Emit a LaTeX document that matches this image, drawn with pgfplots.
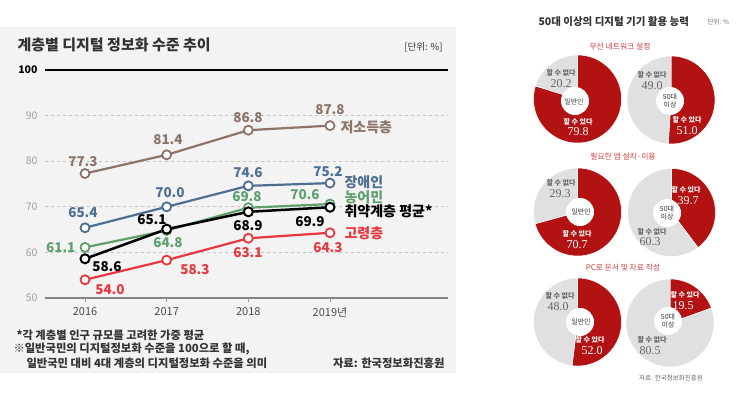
\documentclass[border=0pt]{standalone}
\usepackage{fontspec}
\setmainfont{Noto Sans CJK KR}
\newfontfamily\numserif{Liberation Serif}
\usepackage{pgfplots}
\pgfplotsset{compat=1.18}
\definecolor{bgc}{HTML}{F3F3F3}
\definecolor{brownc}{HTML}{8C7468}
\definecolor{bluec}{HTML}{4D6F92}
\definecolor{greenc}{HTML}{5E9F6E}
\definecolor{redc}{HTML}{E8383D}
\definecolor{gridc}{HTML}{C4C4C4}
\definecolor{tickc}{HTML}{9A9A9A}
\definecolor{axisc}{HTML}{858585}
\definecolor{ylabc}{HTML}{A0A0A0}
\definecolor{xlabc}{HTML}{4A4A4A}
\definecolor{titc}{HTML}{333333}
\definecolor{dred}{HTML}{B31212}
\definecolor{dgray}{HTML}{E0E0E0}
\definecolor{dtext}{HTML}{666666}
\definecolor{rowc}{HTML}{CC4040}
\newcommand{\fs}[1]{\fontsize{#1}{#1}\selectfont}
\newcommand{\donut}[5]{%
  \addplot[fill=dred, draw=white, line width=0.5pt, domain=0:3.6*#3, samples=120, variable=\t] ({#1+44*sin(\t)}, {#2-44*cos(\t)}) -- (axis cs:#1,#2) -- cycle;
  \addplot[fill=dgray, draw=white, line width=0.5pt, domain=3.6*#3:360, samples=120, variable=\t] ({#1+44*sin(\t)}, {#2-44*cos(\t)}) -- (axis cs:#1,#2) -- cycle;
  \fill[white] (axis cs:#4,#5) circle[radius=14];
}
\begin{document}
\begin{tikzpicture}
\path[use as bounding box] (0,0) rectangle (741pt,405pt);
\fill[bgc] (0,32pt) rectangle (456pt,378pt);
\begin{axis}[
  at={(45pt,107pt)}, anchor=south west, scale only axis,
  width=403pt, height=228pt,
  xmin=2015.51, xmax=2020.445, ymin=50, ymax=100,
  clip=false,
  axis line style={draw=none},
  xtick={2016,2017,2018,2019}, xticklabels={2016,2017,2018,2019년},
  ytick={50,60,70,80,90},
  extra y ticks={100},
  extra y tick style={grid style={solid, draw=black, line width=1.4pt}, yticklabel style={text=black, font=\fs{10.5}\bfseries}, tick style={draw=none}},
  ymajorgrids, grid style={draw=gridc, dash pattern=on 3pt off 3pt, line width=0.7pt},
  tick align=outside, major tick length=4pt,
  xtick pos=left, ytick pos=left,
  xtick style={draw=tickc, line width=1pt},
  ytick style={draw=none},
  xticklabel style={font=\fs{11}, text=xlabc, yshift=-2pt},
  yticklabel style={font=\fs{10.5}, text=ylabc},
  /pgf/number format/assume math mode=true,
]
\draw[draw=axisc, line width=1.2pt] (axis cs:2015.51,50) -- (axis cs:2020.445,50);
\addplot[brownc, line width=2.2pt, mark=*, mark size=4.5pt, mark options={solid, fill=white, line width=1.8pt}] coordinates {(2016,77.3)(2017,81.4)(2018,86.8)(2019,87.8)};
\addplot[bluec, line width=2.2pt, mark=*, mark size=4.5pt, mark options={solid, fill=white, line width=1.8pt}] coordinates {(2016,65.4)(2017,70.0)(2018,74.6)(2019,75.2)};
\addplot[greenc, line width=2.2pt, mark=*, mark size=4.5pt, mark options={solid, fill=white, line width=1.8pt}] coordinates {(2016,61.1)(2017,64.8)(2018,69.8)(2019,70.6)};
\addplot[redc, line width=2.2pt, mark=*, mark size=4.5pt, mark options={solid, fill=white, line width=1.8pt}] coordinates {(2016,54.0)(2017,58.3)(2018,63.1)(2019,64.3)};
\addplot[black, line width=2.5pt, mark=*, mark size=4.5pt, mark options={solid, fill=white, line width=2pt}] coordinates {(2016,58.6)(2017,65.1)(2018,68.9)(2019,69.9)};
\end{axis}
\begin{axis}[
  at={(0,0)}, anchor=south west, scale only axis,
  width=741pt, height=405pt,
  xmin=0, xmax=741, ymin=0, ymax=405, y dir=reverse,
  hide axis, clip=false,
]
% left titles
\node[anchor=west, font=\fs{15}\bfseries, text=titc] at (axis cs:14,45) {계층별 디지털 정보화 수준 추이};
\node[anchor=east, font=\fs{9.5}, text=titc] at (axis cs:446,47) {[단위: \%]};
% value labels
\begin{scope}[font=\fs{13.5}\bfseries]
\node[text=brownc] at (axis cs:83,162) {77.3};
\node[text=brownc] at (axis cs:168,140) {81.4};
\node[text=brownc] at (axis cs:248,118) {86.8};
\node[text=brownc] at (axis cs:330,110) {87.8};
\node[text=bluec] at (axis cs:83,213) {65.4};
\node[text=bluec] at (axis cs:170,193) {70.0};
\node[text=bluec] at (axis cs:248,173) {74.6};
\node[text=bluec] at (axis cs:328,172) {75.2};
\node[text=greenc, anchor=east] at (axis cs:79,248) {61.1};
\node[text=greenc] at (axis cs:168,243) {64.8};
\node[text=greenc] at (axis cs:247,197) {69.8};
\node[text=greenc] at (axis cs:305,195) {70.6};
\node[text=black] at (axis cs:107,267) {58.6};
\node[text=black] at (axis cs:152,220) {65.1};
\node[text=black] at (axis cs:248,226) {68.9};
\node[text=black] at (axis cs:310,222) {69.9};
\node[text=redc] at (axis cs:110,290) {54.0};
\node[text=redc] at (axis cs:195,270) {58.3};
\node[text=redc] at (axis cs:248,253) {63.1};
\node[text=redc] at (axis cs:328,248) {64.3};
\end{scope}
\begin{scope}[font=\fs{14}\bfseries]
\node[anchor=west, text=brownc] at (axis cs:337,127) {저소득층};
\node[anchor=west, text=bluec] at (axis cs:341,182) {장애인};
\node[anchor=west, text=greenc] at (axis cs:341,197) {농어민};
\node[anchor=west, text=black] at (axis cs:341,211) {취약계층 평균*};
\node[anchor=west, text=redc] at (axis cs:341,233) {고령층};
\end{scope}
% footnotes
\begin{scope}[font=\fs{11.3}\bfseries, text=titc]
\node[anchor=west] at (axis cs:13,335) {*각 계층별 인구 규모를 고려한 가중 평균};
\node[anchor=west] at (axis cs:10,349) {※일반국민의 디지털정보화 수준을 100으로 할 때,};
\node[anchor=west] at (axis cs:23,363) {일반국민 대비 4대 계층의 디지털정보화 수준을 의미};
\node[anchor=east] at (axis cs:448,363) {자료: 한국정보화진흥원};
\end{scope}
% right panel
\node[anchor=west, font=\fs{10.5}\bfseries, text=titc] at (axis cs:535,22) {50대 이상의 디지털 기기 활용 능력};
\node[anchor=west, font=\fs{6.5}, text=dtext] at (axis cs:704,22) {단위: \%};
\node[font=\fs{7.8}, text=rowc] at (axis cs:620,47) {무선 네트워크 설정};
\node[font=\fs{7.8}, text=rowc] at (axis cs:623,157) {필요한 앱 설치·이용};
\node[font=\fs{7.8}, text=rowc] at (axis cs:623,268) {PC로 문서 및 자료 작성};
\donut{577.5}{99}{79.8}{575}{101}
\donut{671}{100}{51.0}{670}{101}
\donut{577.5}{212}{70.7}{580}{212}
\donut{671.5}{212.5}{39.7}{667}{213}
\donut{577.5}{322}{52.0}{580}{322}
\donut{670}{323}{19.5}{668}{321}
% donut texts
\begin{scope}[font=\fs{7}\bfseries]
\node[text=dtext] at (axis cs:561,73) {할 수 없다};
\node[text=white] at (axis cs:578,122) {할 수 있다};
\node[text=dtext] at (axis cs:652,75) {할 수 없다};
\node[text=white] at (axis cs:687,120) {할 수 있다};
\node[text=dtext] at (axis cs:561,183) {할 수 없다};
\node[text=white] at (axis cs:577,234) {할 수 있다};
\node[text=white] at (axis cs:686,190) {할 수 있다};
\node[text=dtext] at (axis cs:652,232) {할 수 없다};
\node[text=dtext] at (axis cs:560,296) {할 수 없다};
\node[text=white] at (axis cs:590,340) {할 수 있다};
\node[text=white] at (axis cs:685,295) {할 수 있다};
\node[text=dtext] at (axis cs:652,340) {할 수 없다};
\end{scope}
\begin{scope}[font=\numserif\fs{12}]
\node[text=dtext] at (axis cs:561,84) {20.2};
\node[text=white] at (axis cs:578,132) {79.8};
\node[text=dtext] at (axis cs:652,86) {49.0};
\node[text=white] at (axis cs:687,131) {51.0};
\node[text=dtext] at (axis cs:560,194) {29.3};
\node[text=white] at (axis cs:577,245) {70.7};
\node[text=white] at (axis cs:688,201) {39.7};
\node[text=dtext] at (axis cs:650,242) {60.3};
\node[text=dtext] at (axis cs:558,307) {48.0};
\node[text=white] at (axis cs:592,351) {52.0};
\node[text=white] at (axis cs:683,306) {19.5};
\node[text=dtext] at (axis cs:650,351) {80.5};
\end{scope}
\begin{scope}[font=\fontsize{7}{8.5}\selectfont, text=titc]
\node at (axis cs:574,102) {일반인};
\node at (axis cs:581,212) {일반인};
\node at (axis cs:581,322) {일반인};
\node[align=center] at (axis cs:670,101) {50대\\이상};
\node[align=center] at (axis cs:667,213) {50대\\이상};
\node[align=center] at (axis cs:668,321) {50대\\이상};
\end{scope}
\node[font=\fs{6.5}, text=dtext] at (axis cs:671,378) {자료: 한국정보화진흥원};
\end{axis}
\end{tikzpicture}
\end{document}
